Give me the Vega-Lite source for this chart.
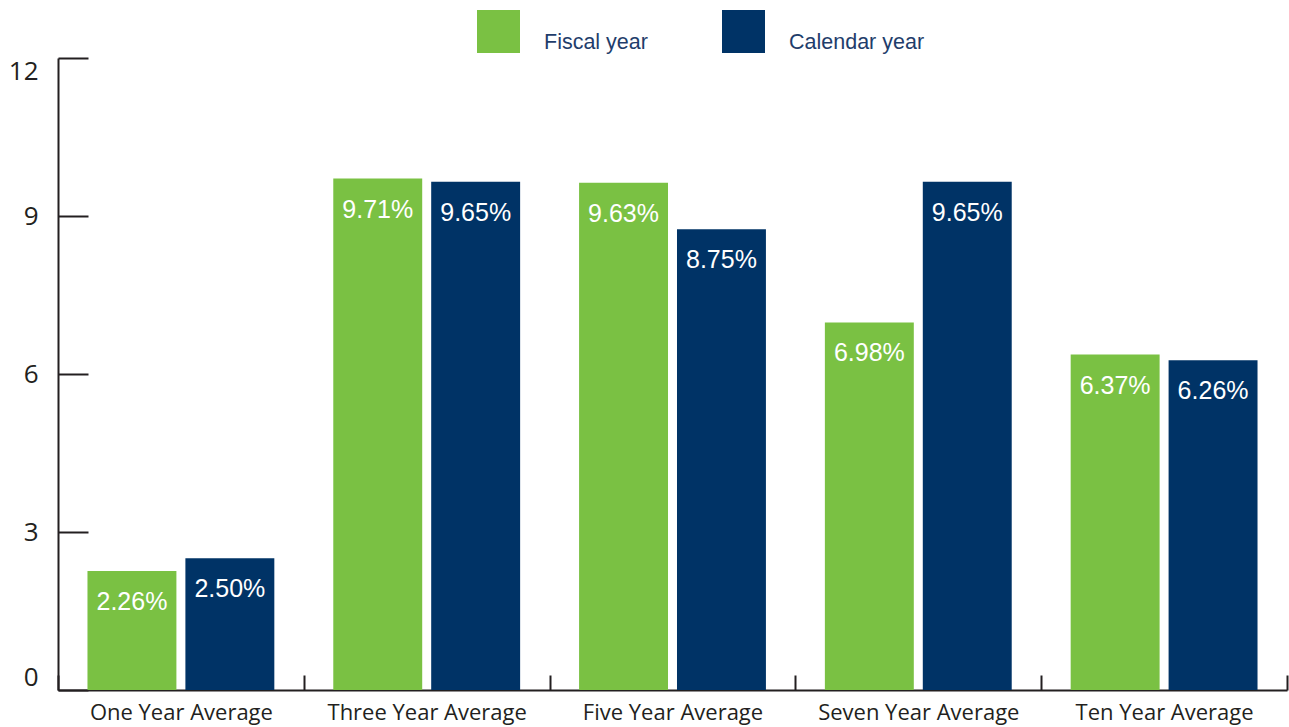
{
  "$schema": "https://vega.github.io/schema/vega-lite/v6.json",
  "width": 1229,
  "height": 632,
  "autosize": {"type": "none"},
  "padding": {"left": 58, "top": 58, "right": 2, "bottom": 37},
  "background": "white",
  "config": {"view": {"stroke": null}},
  "data": {
    "values": [
      {"period": "One Year Average", "series": "Fiscal year", "value": 2.26, "label": "2.26%"},
      {"period": "One Year Average", "series": "Calendar year", "value": 2.50, "label": "2.50%"},
      {"period": "Three Year Average", "series": "Fiscal year", "value": 9.71, "label": "9.71%"},
      {"period": "Three Year Average", "series": "Calendar year", "value": 9.65, "label": "9.65%"},
      {"period": "Five Year Average", "series": "Fiscal year", "value": 9.63, "label": "9.63%"},
      {"period": "Five Year Average", "series": "Calendar year", "value": 8.75, "label": "8.75%"},
      {"period": "Seven Year Average", "series": "Fiscal year", "value": 6.98, "label": "6.98%"},
      {"period": "Seven Year Average", "series": "Calendar year", "value": 9.65, "label": "9.65%"},
      {"period": "Ten Year Average", "series": "Fiscal year", "value": 6.37, "label": "6.37%"},
      {"period": "Ten Year Average", "series": "Calendar year", "value": 6.26, "label": "6.26%"}
    ]
  },
  "encoding": {
    "x": {
      "field": "period",
      "type": "nominal",
      "sort": null,
      "scale": {"paddingInner": 0, "paddingOuter": 0},
      "axis": {
        "title": null,
        "labelAngle": 0,
        "labelFont": "Open Sans",
        "labelFontSize": 22,
        "labelColor": "#231f20",
        "labelPadding": 27,
        "labelLimit": 300,
        "tickBand": "extent",
        "tickSize": -15,
        "tickColor": "#231f20",
        "tickWidth": 2,
        "domainColor": "#231f20",
        "domainWidth": 2
      }
    },
    "xOffset": {
      "field": "series",
      "type": "nominal",
      "sort": ["Fiscal year", "Calendar year"],
      "scale": {"paddingInner": 0.0918, "paddingOuter": 0.301}
    },
    "y": {
      "field": "value",
      "type": "quantitative",
      "scale": {"domain": [0, 12], "nice": false},
      "axis": {
        "title": null,
        "values": [0, 3, 6, 9, 12],
        "grid": false,
        "labelFont": "Open Sans",
        "labelFontSize": 26,
        "labelColor": "#231f20",
        "labelPadding": 50,
        "labelFlush": true,
        "tickSize": -30,
        "tickColor": "#231f20",
        "tickWidth": 2,
        "domainColor": "#231f20",
        "domainWidth": 2
      }
    }
  },
  "layer": [
    {
      "mark": {"type": "bar"},
      "encoding": {
        "color": {
          "field": "series",
          "type": "nominal",
          "sort": ["Fiscal year", "Calendar year"],
          "scale": {"domain": ["Fiscal year", "Calendar year"], "range": ["#7ac143", "#003366"]},
          "legend": {
            "title": null,
            "orient": "none",
            "legendX": 419,
            "legendY": -48,
            "direction": "horizontal",
            "symbolType": "square",
            "symbolSize": 1849,
            "symbolStrokeWidth": 0,
            "symbolOpacity": 1,
            "labelFont": "Liberation Sans",
            "labelFontSize": 21.5,
            "labelColor": "#1f3d6b",
            "labelOffset": 24,
            "labelBaseline": "top",
            "columnPadding": 74,
            "padding": 0
          }
        }
      }
    },
    {
      "mark": {"type": "text", "color": "white", "font": "Liberation Sans", "fontSize": 25, "baseline": "middle", "dy": 31},
      "encoding": {"text": {"field": "label"}}
    }
  ]
}
